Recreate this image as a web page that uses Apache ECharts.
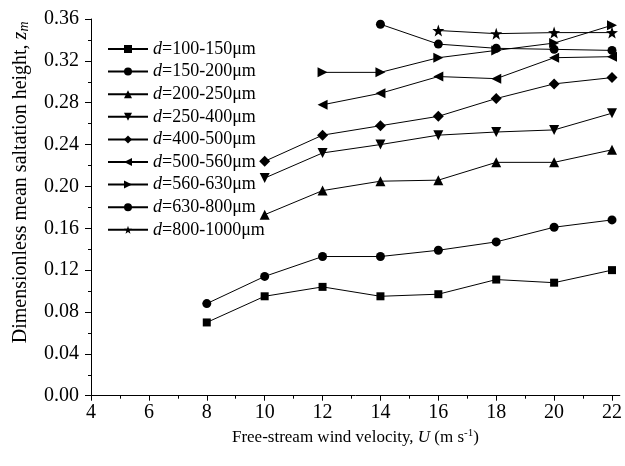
<!DOCTYPE html>
<html>
<head>
<meta charset="utf-8">
<script src="https://cdn.jsdelivr.net/npm/echarts@6/dist/echarts.min.js"></script>
<style>
  html, body { margin: 0; padding: 0; background: #fff; }
  #chart { width: 625px; height: 466px; }
</style>
</head>
<body>
<div id="chart"></div>
<script>
// Free-stream wind velocity U (m/s)
const velocity = [8, 10, 12, 14, 16, 18, 20, 22];

// Dimensionless mean saltation height per grain-size class (null = not measured)
const d100_150  = [0.070, 0.095, 0.104, 0.095, 0.097, 0.111, 0.108, 0.120];
const d150_200  = [0.088, 0.114, 0.133, 0.133, 0.139, 0.147, 0.161, 0.168];
const d200_250  = [null, 0.173, 0.196, 0.205, 0.206, 0.223, 0.223, 0.235];
const d250_400  = [null, 0.208, 0.232, 0.240, 0.249, 0.252, 0.254, 0.270];
const d400_500  = [null, 0.224, 0.249, 0.258, 0.267, 0.284, 0.298, 0.304];
const d500_560  = [null, null, 0.278, 0.289, 0.305, 0.303, 0.323, 0.324];
const d560_630  = [null, null, 0.309, 0.309, 0.323, 0.330, 0.337, 0.354];
const d630_800  = [null, null, null, 0.355, 0.336, 0.332, 0.331, 0.330];
const d800_1000 = [null, null, null, null, 0.349, 0.346, 0.347, 0.347];

const classLabels = ['100-150', '150-200', '200-250', '250-400', '400-500',
                     '500-560', '560-630', '630-800', '800-1000'];

const xTickValues  = [4, 6, 8, 10, 12, 14, 16, 18, 20, 22];
const xMinorValues = [5, 7, 9, 11, 13, 15, 17, 19, 21];

const FONT = '"Liberation Serif", "Times New Roman", serif';
const BLACK = '#000';

const starPath = 'path://M10,0 L12.35,6.76 L19.51,6.91 L13.8,11.24 L15.88,18.09 L10,14 L4.12,18.09 L6.2,11.24 L0.49,6.91 L7.65,6.76 Z';

const markers = [
  { symbol: 'rect',     size: 8,  rotate: 0 },
  { symbol: 'circle',   size: 9,  rotate: 0 },
  { symbol: 'triangle', size: 10, rotate: 0 },
  { symbol: 'triangle', size: 10, rotate: 180 },
  { symbol: 'diamond',  size: 11, rotate: 0 },
  { symbol: 'triangle', size: 10, rotate: 90 },
  { symbol: 'triangle', size: 10, rotate: -90 },
  { symbol: 'circle',   size: 9,  rotate: 0 },
  { symbol: starPath,   size: 12, rotate: 0 }
];

const allValues = [d100_150, d150_200, d200_250, d250_400, d400_500,
                   d500_560, d560_630, d630_800, d800_1000];

const series = allValues.map((vals, i) => ({
  name: 'd=' + classLabels[i] + 'μm',
  type: 'line',
  xAxisIndex: 0,
  data: velocity.map((u, k) => [u, vals[k]]),
  symbol: markers[i].symbol,
  symbolSize: markers[i].size,
  symbolRotate: markers[i].rotate,
  showAllSymbol: true,
  lineStyle: { color: BLACK, width: 1 },
  itemStyle: { color: BLACK, borderWidth: 0 },
  emphasis: { disabled: true },
  animation: false
}));

const chart = echarts.init(document.getElementById('chart'), null, { renderer: 'canvas' });

chart.setOption({
  animation: false,
  backgroundColor: '#fff',
  grid: { left: 91, right: 3.3, top: 19, bottom: 70.3, containLabel: false },
  legend: {
    orient: 'vertical',
    left: 102,
    top: 35,
    itemWidth: 40,
    itemHeight: 10,
    itemGap: 4.6,
    data: series.map(s => s.name),
    formatter: name => '{i|d}{n|' + name.slice(1) + '}',
    textStyle: {
      color: BLACK,
      fontFamily: FONT,
      fontSize: 18,
      lineHeight: 18,
      rich: {
        i: { fontStyle: 'italic', fontFamily: FONT, fontSize: 18, color: BLACK },
        n: { fontFamily: FONT, fontSize: 18, color: BLACK }
      }
    },
    inactiveColor: BLACK
  },
  xAxis: [
    {
      type: 'value',
      min: 4,
      max: 22.27,
      position: 'bottom',
      axisLine: { show: true, lineStyle: { color: BLACK, width: 1 } },
      axisTick: { show: true, length: 5, customValues: xTickValues, lineStyle: { color: BLACK } },
      axisLabel: { customValues: xTickValues, color: BLACK, fontFamily: FONT, fontSize: 20, margin: 7 },
      splitLine: { show: false },
      name: '{t|Free-stream wind velocity, }{i|U}{t| (m s}{sup|-1}{t|)}',
      nameLocation: 'middle',
      nameGap: 32,
      nameTextStyle: {
        color: BLACK,
        fontFamily: FONT,
        fontSize: 17,
        rich: {
          t: { fontFamily: FONT, fontSize: 17, color: BLACK },
          i: { fontFamily: FONT, fontSize: 17, fontStyle: 'italic', color: BLACK },
          sup: { fontFamily: FONT, fontSize: 11, color: BLACK, verticalAlign: 'top', padding: [0, 0, 9, 0] }
        }
      }
    },
    {
      type: 'value',
      min: 4,
      max: 22.27,
      position: 'bottom',
      axisLine: { show: false },
      axisTick: { show: true, length: 3, customValues: xMinorValues, lineStyle: { color: BLACK } },
      axisLabel: { show: false },
      splitLine: { show: false }
    }
  ],
  yAxis: {
    type: 'value',
    min: 0,
    max: 0.36,
    interval: 0.04,
    axisLine: { show: true, lineStyle: { color: BLACK, width: 1 } },
    axisTick: { show: true, length: 6, lineStyle: { color: BLACK } },
    minorTick: { show: true, splitNumber: 2, length: 3, lineStyle: { color: BLACK } },
    axisLabel: {
      color: BLACK, fontFamily: FONT, fontSize: 20, margin: 12,
      formatter: v => v.toFixed(2)
    },
    splitLine: { show: false },
    name: '{t|Dimensionless mean saltation height, }{i|z}{sub|m}',
    nameLocation: 'middle',
    nameGap: 60,
    nameRotate: 90,
    nameTextStyle: {
      color: BLACK,
      fontFamily: FONT,
      fontSize: 20,
      padding: [0, 0, 0, 50],
      rich: {
        t: { fontFamily: FONT, fontSize: 20, color: BLACK },
        i: { fontFamily: FONT, fontSize: 20, fontStyle: 'italic', color: BLACK },
        sub: { fontFamily: FONT, fontSize: 14, fontStyle: 'italic', color: BLACK, verticalAlign: 'bottom', padding: [6, 0, 0, 0] }
      }
    }
  },
  series: series
});
</script>
</body>
</html>
